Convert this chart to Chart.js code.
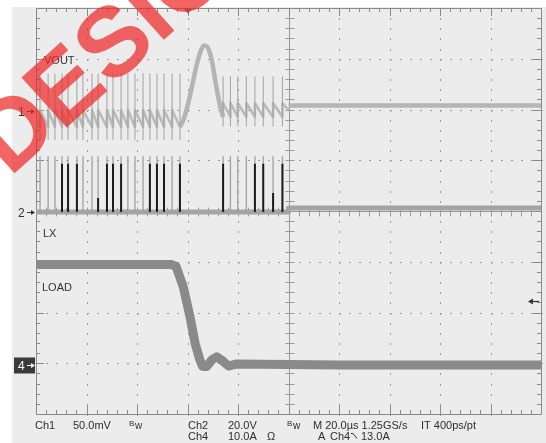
<!DOCTYPE html>
<html><head><meta charset="utf-8">
<script src="https://cdn.jsdelivr.net/npm/chart.js@4/dist/chart.umd.min.js"></script>
<style>html,body{margin:0;padding:0;background:#fff;overflow:hidden}canvas{display:block}</style>
</head><body>
<canvas id="c" width="546" height="443"></canvas>
<script>
// ---- time base: µs (20 µs/div, 10 div) ----
const switchTimesPre  = [1.6, 4.8, 7.5, 10.3, 12.7, 16.2, 18.6, 22.2, 24.6, 28.1, 30.5, 33.7, 36.4, 39.2, 42.4, 45.1, 47.9, 50.7, 53.9, 57.0];
const switchTimesPost = [74.1, 77.0, 79.9, 83.3, 86.7, 90.0, 93.9, 97.6];
// ---- Ch2 LX (V, 20 V/div) ----
const lxDarkTimes      = [10.3, 12.7, 16.2, 28.1, 30.5, 33.7, 45.1, 47.9, 50.7, 57.0, 74.1, 86.7, 90.0, 97.6];
const lxShortDarkTimes = [24.6, 93.9];
const lxShortDarkTop   = [5.5, 7.5];
const lxLevelsV        = [0, 22, 19, 1.6];      // baseline, pulse top, dark pulse top, level after 100 µs
// ---- Ch1 VOUT (mV, 50 mV/div) ----
const voutLevelsPre  = [1.0, -15.8, 37.0, -28.6]; // after pulse, before pulse, spike top, spike bottom
const voutLevelsPost = [7.9, -5.9, 34.0, -15.3];
const voutHumpTime   = [57.0, 57.8, 59.0, 60.5, 62.3, 63.8, 65.2, 66.5, 67.5, 68.9, 70.0, 71.0, 72.0, 73.0, 74.1];
const voutHumpMv     = [-15.8, -12, -4, 10, 30.5, 47, 59, 64.5, 64, 57, 45, 30, 16, 4, -5.9];
const voutEdgeMv     = [-9, 1.0, 5.5];           // at 0 µs, at 100 µs, settled
// ---- Ch4 LOAD (A, 10 A/div) ----
const loadTime = [0, 30, 53.5, 55.5, 58.3, 61.0, 63.0, 64.9, 66.0, 67.6, 69.6, 71.6, 73.5, 76.2, 79.5, 120, 200];
const loadAmps = [19.8, 19.8, 19.8, 19.4, 15.4, 9.5, 4.3, 1.0, -0.3, -0.3, 1.0, 1.6, 1.0, -0.2, 0.2, 0.0, 0.0];
const triggerTime = 60.2, triggerLevelA = 13.0;

// ---- build traces from the read values ----
const voutRipple = [{x:0, y:voutEdgeMv[0]}];
switchTimesPre.forEach((t,i) => {
  voutRipple.push({x:t, y:voutLevelsPre[1]});
  if (i < switchTimesPre.length-1) voutRipple.push({x:t, y:voutLevelsPre[0]});
});
voutRipple.push({x:57.0, y:null});
switchTimesPost.forEach(t => { voutRipple.push({x:t, y:voutLevelsPost[1]}, {x:t, y:voutLevelsPost[0]}); });
voutRipple.push({x:100, y:voutEdgeMv[1]});
const voutHump = voutHumpTime.map((t,i) => ({x:t, y:voutHumpMv[i]}));
const voutSettled = [{x:100, y:voutEdgeMv[2]}, {x:200, y:voutEdgeMv[2]}];

const voutSpikes = [];
switchTimesPre.forEach(t => voutSpikes.push({x:t,y:voutLevelsPre[3]},{x:t,y:voutLevelsPre[2]},{x:t,y:null}));
switchTimesPost.forEach(t => voutSpikes.push({x:t,y:voutLevelsPost[3]},{x:t,y:voutLevelsPost[2]},{x:t,y:null}));

const lxBand = [{x:0,y:lxLevelsV[0]},{x:100,y:lxLevelsV[0]},{x:100,y:lxLevelsV[3]},{x:200,y:lxLevelsV[3]}];
const lxSpikes = [];
switchTimesPre.concat(switchTimesPost).forEach(t => lxSpikes.push({x:t,y:lxLevelsV[0]},{x:t,y:lxLevelsV[1]},{x:t,y:null}));
const lxDark = [];
lxDarkTimes.forEach(t => lxDark.push({x:t,y:lxLevelsV[0]},{x:t,y:lxLevelsV[2]},{x:t,y:null}));
lxShortDarkTimes.forEach((t,i) => lxDark.push({x:t,y:lxLevelsV[0]},{x:t,y:lxShortDarkTop[i]},{x:t,y:null}));

const loadPts = loadTime.map((t,i) => ({x:t, y:loadAmps[i]}));

// ---- plugins ----
const FONT = '"Liberation Sans", Arial, sans-serif';
const scopePlugin = {
  id: 'scope',
  beforeDraw(chart) {
    const ctx = chart.ctx;
    ctx.save();
    ctx.fillStyle = '#ffffff'; ctx.fillRect(0,0,546,443);
    ctx.fillStyle = '#ececec'; ctx.fillRect(12,7,534,436);
    ctx.restore();
  },
  beforeDatasetsDraw(chart) {
    const ctx = chart.ctx, xs = chart.scales.x, gs = chart.scales.yGrid;
    const L = xs.getPixelForValue(0), R = xs.getPixelForValue(200);
    const T = gs.getPixelForValue(8), B = gs.getPixelForValue(0);
    const cx = Math.round(xs.getPixelForValue(100)) + 0.5, cy = Math.round(gs.getPixelForValue(4)) + 0.5;
    ctx.save();
    // dotted graticule
    ctx.fillStyle = '#9a9a9a';
    for (let i = 1; i < 10; i++) {
      if (i === 5) continue;
      const x = Math.round(xs.getPixelForValue(20*i));
      for (let j = 0; j <= 40; j++) { const y = Math.round(gs.getPixelForValue(j/5)); ctx.fillRect(x, y, 1, 2); }
    }
    for (let j = 1; j < 8; j++) {
      if (j === 4) continue;
      const y = Math.round(gs.getPixelForValue(j));
      for (let k = 0; k <= 50; k++) { const x = Math.round(xs.getPixelForValue(4*k)); ctx.fillRect(x, y, 2, 1); }
    }
    // centre cross
    ctx.strokeStyle = '#9a9a9a'; ctx.lineWidth = 1;
    ctx.beginPath();
    ctx.moveTo(cx, T); ctx.lineTo(cx, B);
    ctx.moveTo(L, cy); ctx.lineTo(R, cy);
    for (let j = 0; j <= 40; j++) { const y = Math.round(gs.getPixelForValue(j/5)) + 0.5; ctx.moveTo(cx-4, y); ctx.lineTo(cx+5, y); }
    for (let k = 0; k <= 50; k++) { const x = Math.round(xs.getPixelForValue(4*k)) + 0.5; ctx.moveTo(x, cy-4); ctx.lineTo(x, cy+5); }
    ctx.stroke();
    // frame + edge ticks
    ctx.strokeStyle = '#8a8a8a';
    ctx.beginPath();
    ctx.rect(Math.round(L)+0.5, Math.round(T)+0.5, Math.round(R-L), Math.round(B-T));
    for (let k = 0; k <= 50; k++) {
      const x = Math.round(xs.getPixelForValue(4*k)) + 0.5, len = (k % 5 === 0) ? 8 : 4;
      ctx.moveTo(x, T); ctx.lineTo(x, T+len);
      ctx.moveTo(x, B); ctx.lineTo(x, B-len);
    }
    for (let j = 0; j <= 40; j++) {
      const y = Math.round(gs.getPixelForValue(j/5)) + 0.5, len = (j % 5 === 0) ? 8 : 4;
      ctx.moveTo(L, y); ctx.lineTo(L+len, y);
      ctx.moveTo(R, y); ctx.lineTo(R-len, y);
    }
    ctx.stroke();
    ctx.restore();
  },
  afterDraw(chart) {
    const ctx = chart.ctx, xs = chart.scales.x;
    const yv = chart.scales.yVout, yl = chart.scales.yLx, yd = chart.scales.yLoad, gs = chart.scales.yGrid;
    ctx.save();
    // trigger position marker
    const tx = xs.getPixelForValue(triggerTime), T = gs.getPixelForValue(8);
    ctx.fillStyle = '#707070';
    ctx.beginPath(); ctx.moveTo(tx-4, T); ctx.lineTo(tx+4, T); ctx.lineTo(tx, T+6); ctx.closePath(); ctx.fill();
    // trigger level arrow (right)
    const ty = Math.round(yd.getPixelForValue(triggerLevelA)) + 2.5;
    ctx.strokeStyle = '#333'; ctx.fillStyle = '#333'; ctx.lineWidth = 1.2;
    ctx.beginPath(); ctx.moveTo(531, ty); ctx.lineTo(539, ty); ctx.stroke();
    ctx.beginPath(); ctx.moveTo(528, ty); ctx.lineTo(533, ty-3); ctx.lineTo(533, ty+3); ctx.closePath(); ctx.fill();
    // channel ground markers
    function marker(label, y, boxed) {
      y = Math.round(y) + 0.5;
      if (boxed) { ctx.fillStyle = '#3a3a3a'; ctx.fillRect(14, y-8, 21, 16); }
      const c = boxed ? '#ffffff' : '#333333';
      ctx.fillStyle = c; ctx.strokeStyle = c; ctx.lineWidth = 1;
      ctx.font = '12px ' + FONT; ctx.textBaseline = 'middle'; ctx.textAlign = 'left';
      ctx.fillText(label, 18, y+1);
      ctx.beginPath(); ctx.moveTo(27, y); ctx.lineTo(32, y); ctx.stroke();
      ctx.beginPath(); ctx.moveTo(35, y); ctx.lineTo(31, y-2.5); ctx.lineTo(31, y+2.5); ctx.closePath(); ctx.fill();
    }
    marker('1', yv.getPixelForValue(0), false);
    marker('2', yl.getPixelForValue(0), false);
    marker('4', yd.getPixelForValue(0), true);
    // trace labels
    ctx.fillStyle = '#333'; ctx.font = '11px ' + FONT; ctx.textBaseline = 'alphabetic'; ctx.textAlign = 'left';
    ctx.fillText('VOUT', 44, 64);
    ctx.fillText('LX', 43, 237);
    ctx.fillText('LOAD', 42, 291);
    // readout
    ctx.fillStyle = '#2e2e2e';
    ctx.font = '11px ' + FONT;
    ctx.fillText('Ch1', 35, 429);
    ctx.fillText('50.0mV', 73, 429);
    ctx.fillText('Ch2', 188, 429);
    ctx.fillText('20.0V', 228, 429);
    ctx.fillText('M 20.0\u00b5s 1.25GS/s', 313, 429);
    ctx.fillText('IT 400ps/pt', 421, 429);
    ctx.fillText('Ch4', 188, 440);
    ctx.fillText('10.0A', 228, 440);
    ctx.fillText('\u03a9', 267, 440);
    ctx.fillText('A', 318, 440);
    ctx.fillText('Ch4', 330, 440);
    ctx.fillText('13.0A', 361, 440);
    ctx.font = '8px ' + FONT;
    ctx.fillText('B', 129, 426); ctx.fillText('B', 287, 426);
    ctx.font = '10px ' + FONT;
    ctx.fillText('w', 135, 429); ctx.fillText('w', 293, 429);
    ctx.strokeStyle = '#2e2e2e'; ctx.lineWidth = 1;
    ctx.beginPath(); ctx.moveTo(351, 433.5); ctx.lineTo(353, 433.5); ctx.lineTo(357, 438.5); ctx.stroke();
    // watermark
    ctx.fillStyle = 'rgba(238,40,40,0.72)';
    ctx.font = 'bold 98px ' + FONT; ctx.textAlign = 'center'; ctx.textBaseline = 'middle';
    const letters = ['D','E','S','I','G','N'];
    const centres = [[18,134],[68,90],[117,46],[151,15],[189,-19],[243,-68]];
    letters.forEach((ch,i) => {
      ctx.save(); ctx.translate(centres[i][0], centres[i][1]); ctx.rotate(-42*Math.PI/180);
      ctx.fillText(ch, 0, 0); ctx.restore();
    });
    ctx.restore();
  }
};

new Chart(document.getElementById('c'), {
  type: 'line',
  data: { datasets: [
    { data: voutSpikes,  yAxisID:'yVout', borderColor:'#a2a2a2', borderWidth:1, spanGaps:false, order:1 },
    { data: voutRipple,  yAxisID:'yVout', borderColor:'#bababa', borderWidth:2.5, spanGaps:false, order:2 },
    { data: voutHump,    yAxisID:'yVout', borderColor:'#b4b4b4', borderWidth:4.5, cubicInterpolationMode:'monotone', order:2 },
    { data: voutSettled, yAxisID:'yVout', borderColor:'#b6b6b6', borderWidth:4.5, order:2 },
    { data: lxDark,      yAxisID:'yLx',   borderColor:'#1c1c1c', borderWidth:2, spanGaps:false, order:3 },
    { data: lxSpikes,    yAxisID:'yLx',   borderColor:'#a0a0a0', borderWidth:1.3, spanGaps:false, order:4 },
    { data: lxBand,      yAxisID:'yLx',   borderColor:'#a4a4a4', borderWidth:5, order:5 },
    { data: loadPts,     yAxisID:'yLoad', borderColor:'#8a8a8a', borderWidth:9, order:6 }
  ]},
  options: {
    responsive:false, animation:false, events:[],
    layout:{ padding:{left:36, right:5, top:8, bottom:29}, autoPadding:false },
    plugins:{ legend:{display:false}, tooltip:{enabled:false} },
    elements:{ point:{radius:0}, line:{tension:0, borderJoinStyle:'round'} },
    scales:{
      x:     { type:'linear', min:0, max:200, display:false },
      yGrid: { type:'linear', min:0, max:8, display:false },
      yVout: { type:'linear', min:-298.5, max:101.5, display:false },
      yLx:   { type:'linear', min:-79.6, max:80.4, display:false },
      yLoad: { type:'linear', min:-9.655, max:70.345, display:false }
    }
  },
  plugins:[scopePlugin]
});
</script>
</body></html>
